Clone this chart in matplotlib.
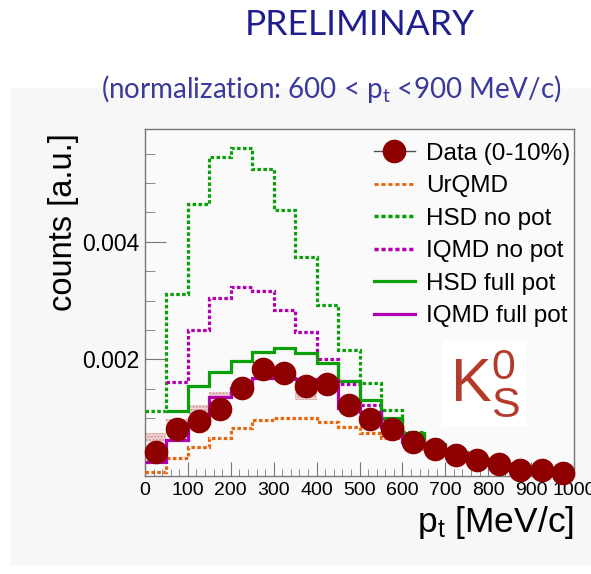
import numpy as np
import matplotlib.pyplot as plt
from matplotlib.lines import Line2D
from matplotlib.patches import Rectangle

plt.rcParams['font.family'] = ['Liberation Sans', 'DejaVu Sans']
plt.rcParams['mathtext.fontset'] = 'custom'
plt.rcParams['mathtext.rm'] = 'Liberation Sans'
plt.rcParams['mathtext.it'] = 'Liberation Sans:italic'

# bin edges in pt [MeV/c], 50 MeV/c bins
edges = np.arange(0, 1001, 50)
centers = (edges[:-1] + edges[1:]) / 2

# data points (0-10%)
data = [0.00043, 0.00081, 0.00095, 0.00115, 0.00152, 0.00183, 0.00177, 0.00155,
        0.00158, 0.00122, 0.00098, 0.00081, 0.00060, 0.00048, 0.00037, 0.00028,
        0.00022, 0.00012, 0.00011, 0.00006]

# systematic boxes: bin index, low, high
sys_bins = [0, 1, 2, 3, 7]
sys_low = [0.00060, 0.00082, 0.00107, 0.00134, 0.00131]
sys_high = [0.00075, 0.00098, 0.00122, 0.00145, 0.00165]

# model curves (None = not drawn)
urqmd = [0.00009, 0.00032, 0.00050, 0.00067, 0.00084, 0.00096, 0.00100, 0.00100,
         0.00094, 0.00085, 0.00075, 0.00067, 0.00058, 0.00048, 0.00037, 0.00028,
         0.00021, 0.00014, 0.00010, 0.00007]
hsd_nopot = [0.00112, 0.00312, 0.00465, 0.00545, 0.00559, 0.00524, 0.00454, 0.00374,
             0.00292, 0.00216, 0.00160, 0.00113, 0.00076, 0.00056, 0.00042, 0.00030,
             0.00022, 0.00015, 0.00010, 0.00008]
iqmd_nopot = [None, 0.00162, 0.00250, 0.00305, 0.00323, 0.00316, 0.00284, 0.00247,
              0.00200, 0.00158, 0.00122, 0.00098, 0.00072, 0.00053, 0.00040, 0.00030,
              0.00022, 0.00015, 0.00010, 0.00007]
hsd_full = [None, 0.00112, 0.00155, 0.00179, 0.00197, 0.00213, 0.00219, 0.00211,
            0.00193, 0.00163, 0.00131, 0.00100, 0.00075, 0.00055, 0.00041, 0.00030,
            0.00022, 0.00015, 0.00010, 0.00008]
iqmd_full = [0.00025, 0.00063, 0.00092, 0.00136, 0.00152, 0.00168, 0.00168, 0.00166,
             0.00165, 0.00117, 0.00110, 0.00085, 0.00060, 0.00052, 0.00040, 0.00031,
             0.00022, 0.00016, 0.00010, 0.00007]

c_data = '#8e0000'
c_urqmd = '#e5680f'
c_green = '#0aa00a'
c_purple = '#b000b0'
dots = (0, (1.1, 0.75))


def draw_hist(ax, vals, color, ls, z):
    v = np.array([np.nan if x is None else x for x in vals])
    ok = ~np.isnan(v)
    first = np.argmax(ok)
    ax.stairs(v[first:], edges[first:], color=color, lw=2.3, ls=ls,
              baseline=None, zorder=z)


fig = plt.figure(figsize=(5.91, 5.74), dpi=100)
fig.patch.set_facecolor('white')
# grey slide panel behind the plot
fig.patches.append(Rectangle((10 / 591, 8 / 574), 581 / 591, 478 / 574,
                             transform=fig.transFigure, facecolor='#f7f7f7',
                             edgecolor='none', zorder=-10))

ax = fig.add_axes([145 / 591, 98 / 574, 429 / 591, 347 / 574])
ax.set_facecolor('#fafafa')

for b, lo, hi in zip(sys_bins, sys_low, sys_high):
    ax.add_patch(Rectangle((edges[b], lo), 50, hi - lo, facecolor='#efd2d2',
                           edgecolor='#cf9898', hatch='.....', lw=0, zorder=2))

draw_hist(ax, urqmd, c_urqmd, dots, 3)
draw_hist(ax, hsd_nopot, c_green, dots, 3)
draw_hist(ax, iqmd_nopot, c_purple, dots, 3)
draw_hist(ax, hsd_full, c_green, '-', 4)
draw_hist(ax, iqmd_full, c_purple, '-', 5)

ax.plot(centers, data, 'o', color=c_data, ms=16, mec=c_data, zorder=6,
        clip_on=False)

ax.set_xlim(0, 1000)
ax.set_ylim(0.000015, 0.00592)
ax.set_xticks(np.arange(0, 1001, 100))
ax.set_xticks(np.arange(0, 1001, 20), minor=True)
ax.set_yticks([0.002, 0.004])
ax.set_yticklabels(['0.002', '0.004'])
ax.set_yticks(np.arange(0.0005, 0.0059, 0.0005), minor=True)
ax.tick_params(axis='both', which='both', direction='in', color='#777777')
ax.tick_params(axis='x', which='major', length=10, labelsize=14, pad=4)
ax.tick_params(axis='x', which='minor', length=5)
ax.tick_params(axis='y', which='major', length=15, labelsize=16.5, pad=4)
ax.tick_params(axis='y', which='minor', length=7)
for s in ax.spines.values():
    s.set_color('#777777')
    s.set_linewidth(1)

ax.set_ylabel('counts [a.u.]', fontsize=23.5)
ax.yaxis.set_label_coords(-0.155, 0.732)
ax.set_xlabel(r'p$_\mathregular{t}$ [MeV/c]', fontsize=25.5, ha='right')
ax.xaxis.set_label_coords(1.0, -0.08)

handles = [
    Line2D([], [], color='#555555', lw=1, marker='o', ms=16, mfc=c_data, mec=c_data),
    Line2D([], [], color=c_urqmd, lw=2, ls=(0, (1.5, 1))),
    Line2D([], [], color=c_green, lw=2.5, ls=(0, (1.2, 0.8))),
    Line2D([], [], color=c_purple, lw=2.5, ls=(0, (1.2, 0.8))),
    Line2D([], [], color=c_green, lw=2.3),
    Line2D([], [], color=c_purple, lw=2.3),
]
labels = ['Data (0-10%)', 'UrQMD', 'HSD no pot', 'IQMD no pot',
          'HSD full pot', 'IQMD full pot']
ax.legend(handles, labels, loc='upper left', bbox_to_anchor=(0.51, 0.988),
          frameon=False, fontsize=17.5, handlelength=1.7, handletextpad=0.45,
          labelspacing=0.43, borderaxespad=0)

ax.text(0.793, 0.268, r'K$^\mathregular{0}_\mathregular{S}$', transform=ax.transAxes,
        fontsize=44, color='#b43a2a', ha='center', va='center', zorder=7,
        bbox=dict(facecolor='white', edgecolor='none', pad=5))

fig.text(360 / 591, 1 - 25 / 574, 'PRELIMINARY', fontsize=25.5, color='#1e1e8e',
         family='Lato', ha='center', va='center')
fig.text(331 / 591, 1 - 89 / 574, r'(normalization: 600 < p$_\mathregular{t}$ <900 MeV/c)',
         fontsize=20, color='#3a3a9a', family='Lato', ha='center', va='center')

fig.savefig('out.png', dpi=100)
